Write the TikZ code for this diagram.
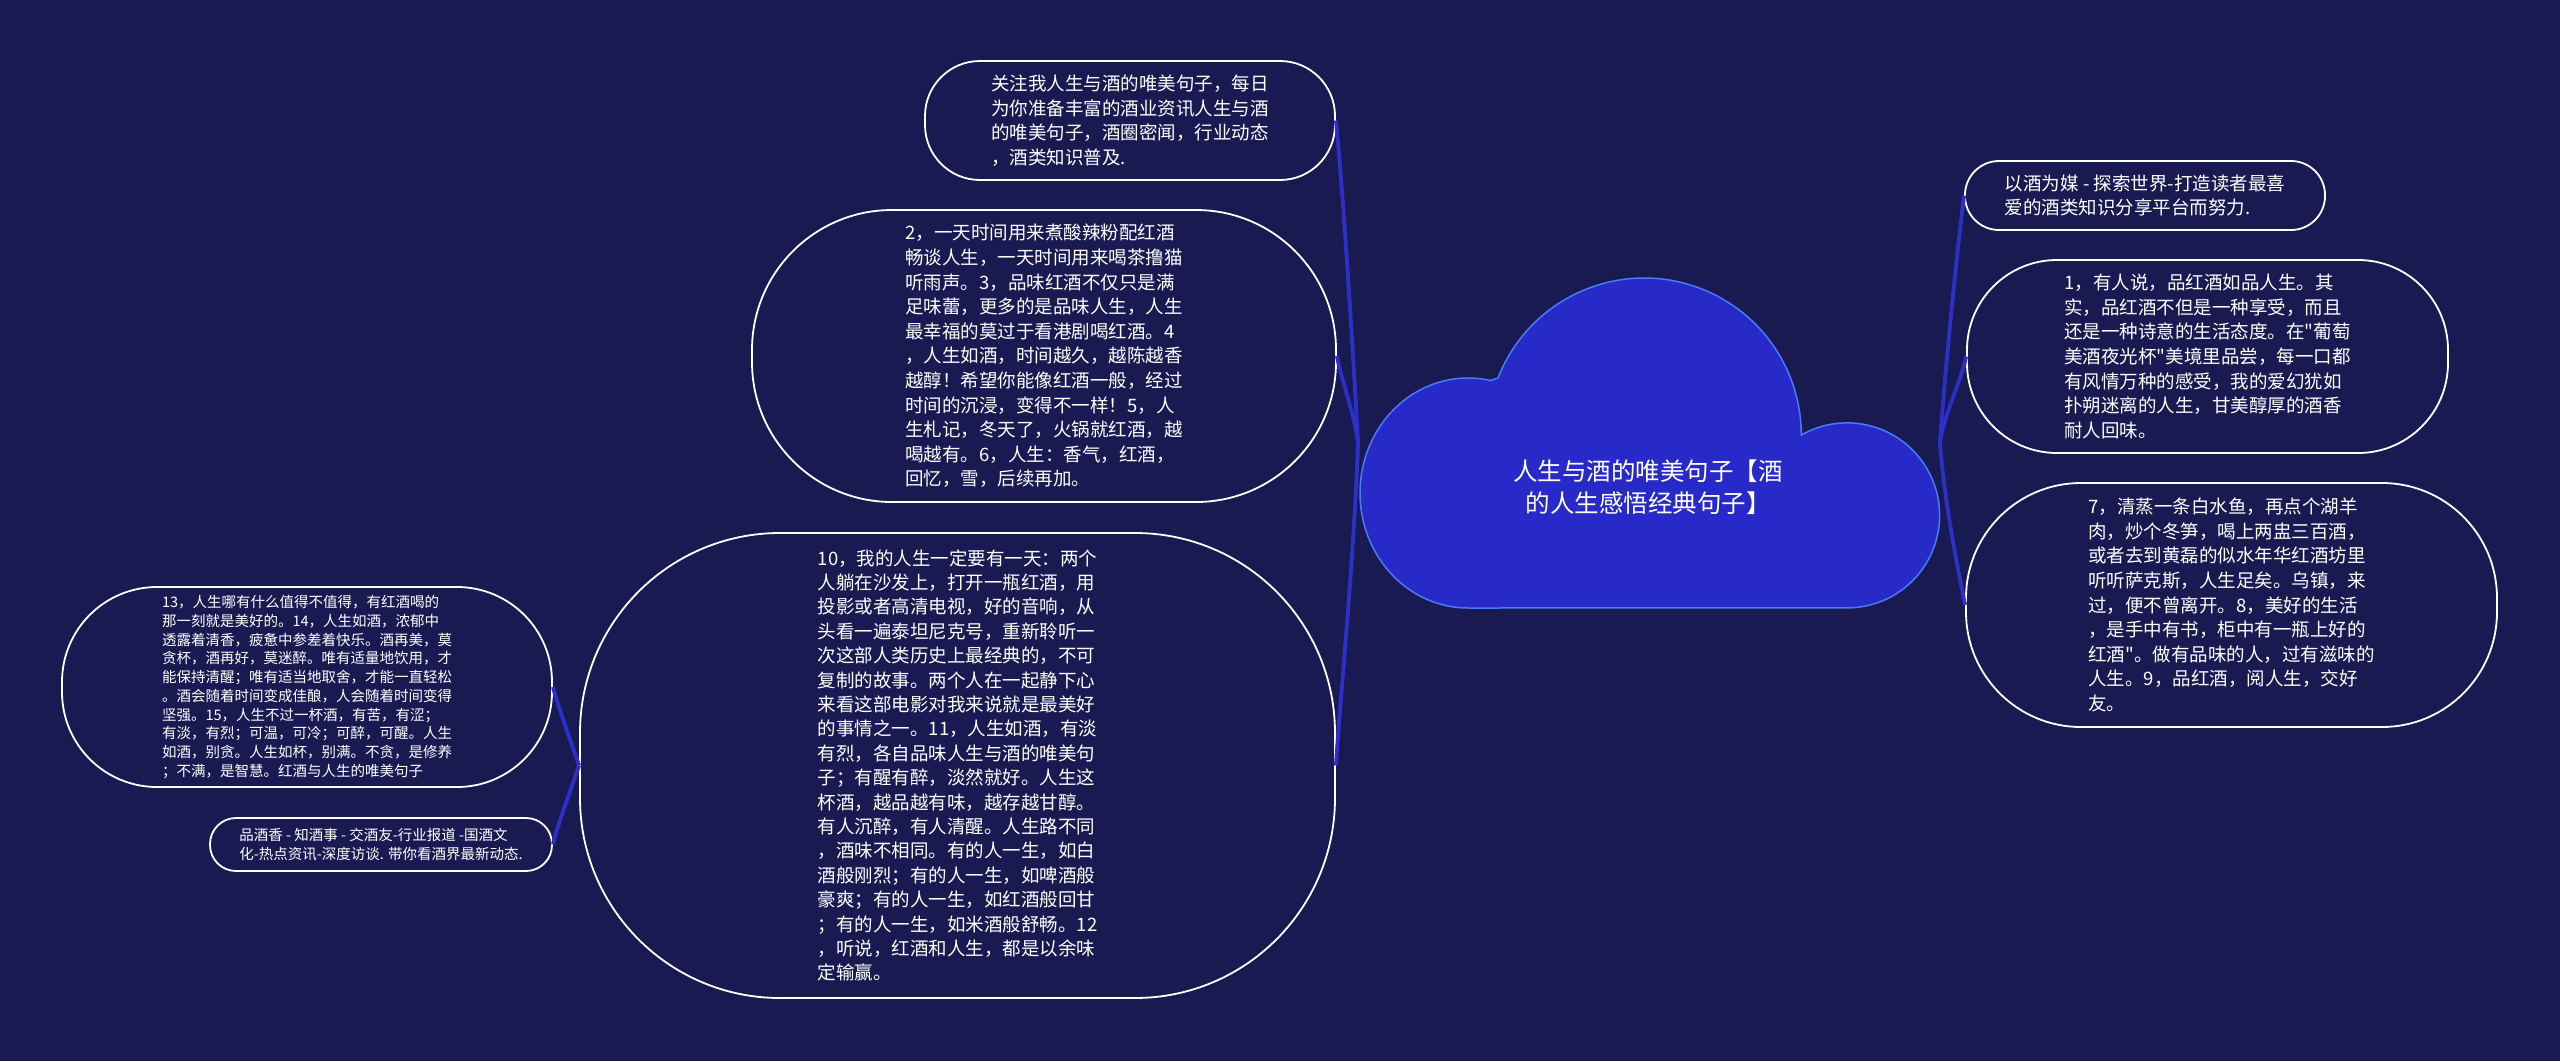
\documentclass[tikz,border=0pt]{standalone}
\usepackage{fontspec}
\newfontfamily\cjk{Noto Sans CJK SC}
\definecolor{bgc}{RGB}{25,26,82}
\definecolor{cloudc}{RGB}{39,41,200}
\definecolor{cloudedge}{RGB}{70,125,245}
\definecolor{linkc}{RGB}{44,48,200}
\begin{document}
\begin{tikzpicture}[x=1pt,y=1pt,
  box/.style={draw=white, line width=1.8pt, fill=bgc, text=white, align=left, inner sep=0pt,
    font=\cjk\fontsize{18.5}{24.6}\selectfont},
  smallbox/.style={box, font=\cjk\fontsize{14.5}{18.7}\selectfont},
  link/.style={draw=linkc, line width=3.8pt}
]
\useasboundingbox (0,0) rectangle (2560,-1061);
\fill[bgc] (0,0) rectangle (2560,-1061);

% central cloud
\path[draw=cloudedge, line width=1.5pt, fill=cloudc]
  (1468,-608) arc[start angle=270, end angle=78, x radius=108, y radius=115]
  -- (1498,-378) arc[start angle=158.7, end angle=0, radius=157]
  arc[start angle=119.7, end angle=-90, radius=92.5] -- cycle;
\node[text=white, align=center, inner sep=0pt, font=\cjk\fontsize{24.5}{31.7}\selectfont]
  (root) at (1648,-487.5) {人生与酒的唯美句子【酒\\的人生感悟经典句子】};
\coordinate (JL) at (1358,-443);
\coordinate (JR) at (1940,-443);

% left branch nodes
\node[box, minimum width=410pt, minimum height=119pt, rounded corners=55pt] (A) at (1130,-120.5)
  {关注我人生与酒的唯美句子，每日\\为你准备丰富的酒业资讯人生与酒\\的唯美句子，酒圈密闻，行业动态\\，酒类知识普及.};
\node[box, minimum width=584pt, minimum height=292pt, rounded corners=140pt] (B) at (1044,-356)
  {2，一天时间用来煮酸辣粉配红酒\\畅谈人生，一天时间用来喝茶撸猫\\听雨声。3，品味红酒不仅只是满\\足味蕾，更多的是品味人生，人生\\最幸福的莫过于看港剧喝红酒。4\\，人生如酒，时间越久，越陈越香\\越醇！希望你能像红酒一般，经过\\时间的沉浸，变得不一样！5，人\\生札记，冬天了，火锅就红酒，越\\喝越有。6，人生：香气，红酒，\\回忆，雪，后续再加。};
\node[box, font=\cjk\fontsize{18.5}{24.4}\selectfont, minimum width=755pt, minimum height=465pt, rounded corners=200pt] (C) at (957.5,-765.5)
  {10，我的人生一定要有一天：两个\\人躺在沙发上，打开一瓶红酒，用\\投影或者高清电视，好的音响，从\\头看一遍泰坦尼克号，重新聆听一\\次这部人类历史上最经典的，不可\\复制的故事。两个人在一起静下心\\来看这部电影对我来说就是最美好\\的事情之一。11，人生如酒，有淡\\有烈，各自品味人生与酒的唯美句\\子；有醒有醉，淡然就好。人生这\\杯酒，越品越有味，越存越甘醇。\\有人沉醉，有人清醒。人生路不同\\，酒味不相同。有的人一生，如白\\酒般刚烈；有的人一生，如啤酒般\\豪爽；有的人一生，如红酒般回甘\\；有的人一生，如米酒般舒畅。12\\，听说，红酒和人生，都是以余味\\定输赢。};
\node[smallbox, minimum width=490pt, minimum height=200pt, rounded corners=95pt] (N13) at (307,-687)
  {13，人生哪有什么值得不值得，有红酒喝的\\那一刻就是美好的。14，人生如酒，浓郁中\\透露着清香，疲惫中参差着快乐。酒再美，莫\\贪杯，酒再好，莫迷醉。唯有适量地饮用，才\\能保持清醒；唯有适当地取舍，才能一直轻松\\。酒会随着时间变成佳酿，人会随着时间变得\\坚强。15，人生不过一杯酒，有苦，有涩；\\有淡，有烈；可温，可冷；可醉，可醒。人生\\如酒，别贪。人生如杯，别满。不贪，是修养\\；不满，是智慧。红酒与人生的唯美句子};
\node[smallbox, minimum width=342pt, minimum height=53pt, rounded corners=26pt] (P) at (381,-844.5)
  {品酒香 - 知酒事 - 交酒友-行业报道 -国酒文\\化-热点资讯-深度访谈. 带你看酒界最新动态.};

% right branch nodes
\node[box, minimum width=360pt, minimum height=69pt, rounded corners=34pt] (R1) at (2145,-195.5)
  {以酒为媒 - 探索世界-打造读者最喜\\爱的酒类知识分享平台而努力.};
\node[box, minimum width=481pt, minimum height=193pt, rounded corners=90pt] (R2) at (2207.5,-356.5)
  {1，有人说，品红酒如品人生。其\\实，品红酒不但是一种享受，而且\\还是一种诗意的生活态度。在"葡萄\\美酒夜光杯"美境里品尝，每一口都\\有风情万种的感受，我的爱幻犹如\\扑朔迷离的人生，甘美醇厚的酒香\\耐人回味。};
\node[box, minimum width=531pt, minimum height=244pt, rounded corners=115pt] (R3) at (2231.5,-605)
  {7，清蒸一条白水鱼，再点个湖羊\\肉，炒个冬笋，喝上两盅三百酒，\\或者去到黄磊的似水年华红酒坊里\\听听萨克斯，人生足矣。乌镇，来\\过，便不曾离开。8，美好的生活\\，是手中有书，柜中有一瓶上好的\\红酒"。做有品味的人，过有滋味的\\人生。9，品红酒，阅人生，交好\\友。};

% connectors
\draw[link] (JL) .. controls (1352,-330) and (1342,-180) .. (A.east);
\draw[link] (JL) .. controls (1356,-420) and (1340,-375) .. (B.east);
\draw[link] (JL) .. controls (1354,-560) and (1340,-700) .. (C.east);
\draw[link] (JR) .. controls (1946,-357) and (1958,-243) .. (R1.west);
\draw[link] (JR) .. controls (1942,-420) and (1963,-376) .. (R2.west);
\draw[link] (JR) .. controls (1944,-500) and (1958,-570) .. (R3.west);
\draw[link] (C.west) .. controls (572,-745) and (556,-700) .. (N13.east);
\draw[link] (C.west) .. controls (572,-786) and (556,-830) .. (P.east);
\end{tikzpicture}
\end{document}
